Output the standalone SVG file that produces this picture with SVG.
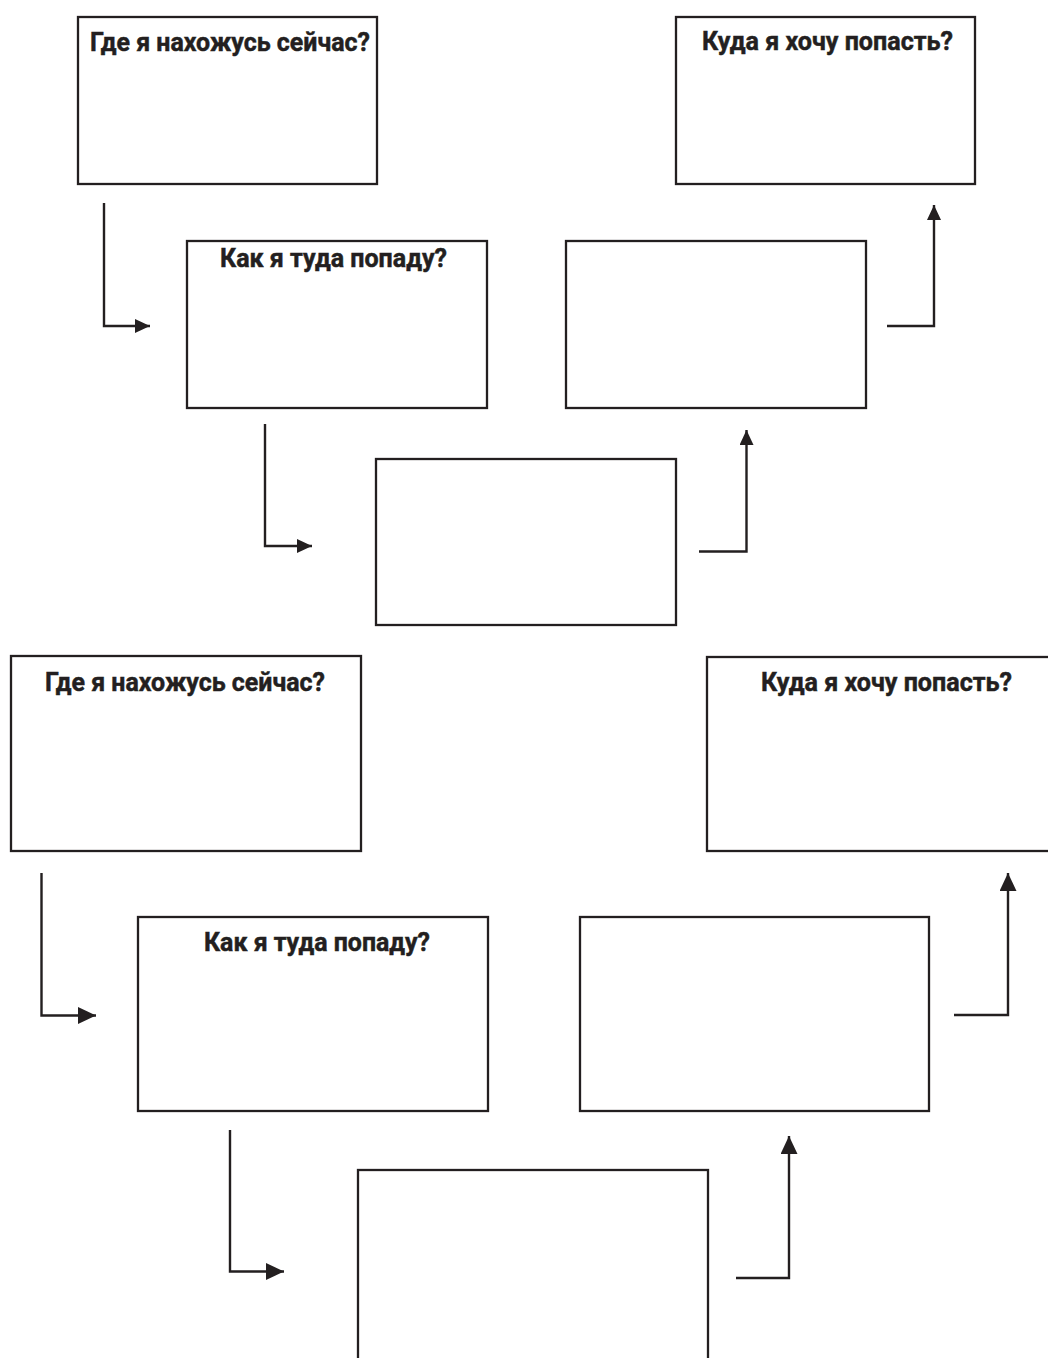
<svg xmlns="http://www.w3.org/2000/svg" width="1048" height="1358" viewBox="0 0 1048 1358">
  <style>
    .box { fill: #ffffff; stroke: #231f20; stroke-width: 2.3; }
    .lbl { font-family: Roboto, "Liberation Sans", sans-serif; font-weight: bold; font-size: 26px; fill: #231f20; stroke: #231f20; stroke-width: 0.5; }
    .conn { fill: none; stroke: #231f20; stroke-width: 2.4; }
  </style>
  <defs>
    <marker id="ah" viewBox="0 0 15 14" refX="15" refY="7" markerWidth="15" markerHeight="14" markerUnits="userSpaceOnUse" orient="auto">
      <path d="M0,0 L15,7 L0,14 Z" fill="#231f20"/>
    </marker>
    <marker id="ahL" viewBox="0 0 18 17" refX="18" refY="8.5" markerWidth="18" markerHeight="17" markerUnits="userSpaceOnUse" orient="auto">
      <path d="M0,0 L18,8.5 L0,17 Z" fill="#231f20"/>
    </marker>
  </defs>
  <rect width="1048" height="1358" fill="#ffffff"/>

  <g id="connectors">
    <path class="conn" d="M104,203 V326 H150" marker-end="url(#ah)"/>
    <path class="conn" d="M887,326 H934 V205" marker-end="url(#ah)"/>
    <path class="conn" d="M265,424 V546 H312" marker-end="url(#ah)"/>
    <path class="conn" d="M699,551.5 H746.5 V430" marker-end="url(#ah)"/>
    <path class="conn" d="M41.5,873 V1015.5 H96" marker-end="url(#ahL)"/>
    <path class="conn" d="M954,1015 H1008 V873" marker-end="url(#ahL)"/>
    <path class="conn" d="M230,1130 V1271.5 H284" marker-end="url(#ahL)"/>
    <path class="conn" d="M736,1278 H789 V1136" marker-end="url(#ahL)"/>
  </g>

  <g id="node-top-where-now">
    <rect class="box" x="78" y="17" width="299" height="167"/>
    <text class="lbl" x="90" y="51" textLength="280" lengthAdjust="spacingAndGlyphs">Где я нахожусь сейчас?</text>
  </g>
  <g id="node-top-where-to">
    <rect class="box" x="676" y="17" width="299" height="167"/>
    <text class="lbl" x="702" y="49.5" textLength="251" lengthAdjust="spacingAndGlyphs">Куда я хочу попасть?</text>
  </g>
  <g id="node-top-how">
    <rect class="box" x="187" y="241" width="300" height="167"/>
    <text class="lbl" x="220" y="267" textLength="227" lengthAdjust="spacingAndGlyphs">Как я туда попаду?</text>
  </g>
  <g id="node-top-step2">
    <rect class="box" x="566" y="241" width="300" height="167"/>
  </g>
  <g id="node-top-step1">
    <rect class="box" x="376" y="459" width="300" height="166"/>
  </g>

  <g id="node-bottom-where-now">
    <rect class="box" x="11" y="656" width="350" height="195"/>
    <text class="lbl" x="45" y="691" textLength="280" lengthAdjust="spacingAndGlyphs">Где я нахожусь сейчас?</text>
  </g>
  <g id="node-bottom-where-to">
    <rect class="box" x="707" y="657" width="350" height="194"/>
    <text class="lbl" x="761" y="691" textLength="251" lengthAdjust="spacingAndGlyphs">Куда я хочу попасть?</text>
  </g>
  <g id="node-bottom-how">
    <rect class="box" x="138" y="917" width="350" height="194"/>
    <text class="lbl" x="204" y="951" textLength="226" lengthAdjust="spacingAndGlyphs">Как я туда попаду?</text>
  </g>
  <g id="node-bottom-step2">
    <rect class="box" x="580" y="917" width="349" height="194"/>
  </g>
  <g id="node-bottom-step1">
    <rect class="box" x="358" y="1170" width="350" height="200"/>
  </g>
</svg>
